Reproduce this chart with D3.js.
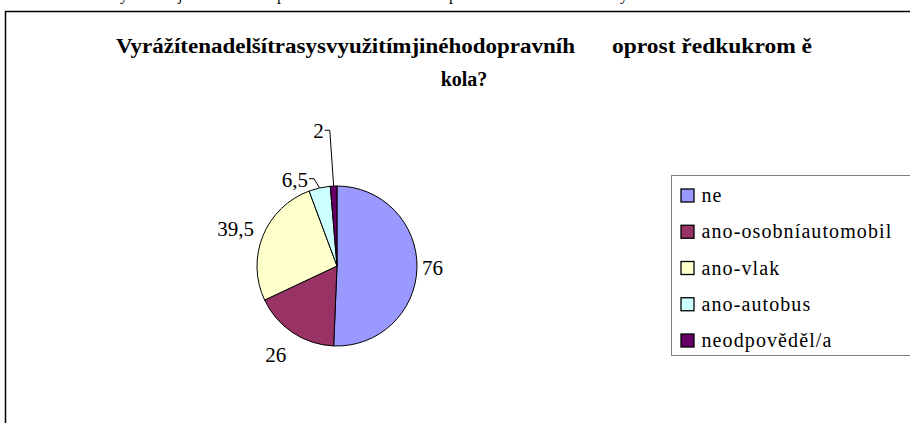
<!DOCTYPE html>
<html>
<head>
<meta charset="utf-8">
<script src="https://cdn.jsdelivr.net/npm/d3@7"></script>
<style>
  body { margin: 0; background: #fff; }
  svg text { font-family: "Liberation Serif", "DejaVu Serif", serif; }
</style>
</head>
<body>
<svg width="910" height="423"></svg>
<script>
// Chart data
const categories = ["ne", "ano-osobníautomobil", "ano-vlak", "ano-autobus", "neodpověděl/a"];
const values = [76, 26, 39.5, 6.5, 2];
const valueLabels = ["76", "26", "39,5", "6,5", "2"];
const colors = ["#9999FF", "#993366", "#FFFFCC", "#CCFFFF", "#660066"];

const titleLine1a = "Vyrážítenadelšítrasysvyužitímjinéhodopravníh";
const titleLine1b = "oprost ředkukrom ě";
const titleLine2 = "kola?";

const width = 910;
const height = 423;
const serif = "Liberation Serif, DejaVu Serif, serif";

// Pie geometry
const cx = 337, cy = 266, radius = 80;
// gap between pie edge and the outside labels of the big slices
const labelGap = [5, 20, 11];
// small slices get moved labels with leader lines (angle in degrees, distance)
const movedLabels = { 3: [-26, 96], 4: [-7.8, 136] };

const svg = d3.select("svg");

// Clipped line of text above the chart frame
svg.append("text")
    .attr("x", "120 178 277 449 620")
    .attr("y", 0)
    .attr("font-family", serif)
    .attr("font-size", 16)
    .text("yjppy");

// Chart frame
svg.append("rect")
    .attr("x", 5.5)
    .attr("y", 11.5)
    .attr("width", 1000)
    .attr("height", 1000)
    .attr("fill", "#fff")
    .attr("stroke", "#000")
    .attr("stroke-width", 1.5);

// Title
svg.append("text")
    .attr("x", 116).attr("y", 53)
    .attr("font-family", serif)
    .attr("font-size", 20).attr("font-weight", "bold")
    .attr("textLength", 459).attr("lengthAdjust", "spacingAndGlyphs")
    .text(titleLine1a);
svg.append("text")
    .attr("x", 612).attr("y", 53)
    .attr("font-family", serif)
    .attr("font-size", 20).attr("font-weight", "bold")
    .attr("textLength", 200).attr("lengthAdjust", "spacingAndGlyphs")
    .text(titleLine1b);
svg.append("text")
    .attr("x", 464).attr("y", 86)
    .attr("font-family", serif)
    .attr("font-size", 20).attr("font-weight", "bold")
    .attr("text-anchor", "middle")
    .text(titleLine2);

// Pie
const pie = d3.pie().sort(null).value(d => d);
const arcs = pie(values);
const arc = d3.arc().innerRadius(0).outerRadius(radius);

const pieG = svg.append("g").attr("transform", `translate(${cx},${cy})`);

pieG.selectAll("path")
    .data(arcs)
    .enter()
    .append("path")
    .attr("d", arc)
    .attr("fill", (d, i) => colors[i])
    .attr("stroke", "#000")
    .attr("stroke-width", 1);

// Value labels
arcs.forEach(function(d, i) {
    const mid = (d.startAngle + d.endAngle) / 2;
    const t = pieG.append("text")
        .attr("font-family", serif)
        .attr("font-size", 21)
        .attr("text-anchor", "middle")
        .text(valueLabels[i]);
    const w = t.node().getComputedTextLength();
    const h = 14;

    if (movedLabels[i]) {
        const p = d3.pointRadial(movedLabels[i][0] * Math.PI / 180, movedLabels[i][1]);
        t.attr("x", p[0]).attr("y", p[1] + h / 2);
        // leader line from label end to the slice edge
        const edge = d3.pointRadial(mid, radius);
        const x0 = p[0] + w / 2 + 1;
        const y0 = p[1] - 1;
        pieG.append("path")
            .attr("d", `M${x0},${y0}H${x0 + 5}L${edge[0]},${edge[1]}`)
            .attr("fill", "none")
            .attr("stroke", "#000")
            .attr("stroke-width", 1);
    } else {
        const dir = d3.pointRadial(mid, 1);
        const p = d3.pointRadial(mid, radius + labelGap[i]);
        const x = p[0] + dir[0] * w / 2;
        const y = p[1] + dir[1] * h / 2;
        t.attr("x", x).attr("y", y + h / 2);
    }
});

// Legend
const legend = svg.append("g").attr("transform", "translate(671.5,175.5)");

legend.append("rect")
    .attr("width", 300)
    .attr("height", 180)
    .attr("fill", "#fff")
    .attr("stroke", "#808080")
    .attr("stroke-width", 1);

const rowY = d3.scalePoint()
    .domain(categories)
    .range([20.5, 165.5]);

const rows = legend.selectAll("g.row")
    .data(categories)
    .enter()
    .append("g")
    .attr("class", "row")
    .attr("transform", d => `translate(0,${rowY(d)})`);

rows.append("rect")
    .attr("x", 9.5)
    .attr("y", -7)
    .attr("width", 13)
    .attr("height", 13)
    .attr("fill", (d, i) => colors[i])
    .attr("stroke", "#000")
    .attr("stroke-width", 1.3);

rows.append("text")
    .attr("x", 30)
    .attr("y", 6)
    .attr("font-family", serif)
    .attr("font-size", 20)
    .attr("letter-spacing", 1.1)
    .text(d => d);
</script>
</body>
</html>
